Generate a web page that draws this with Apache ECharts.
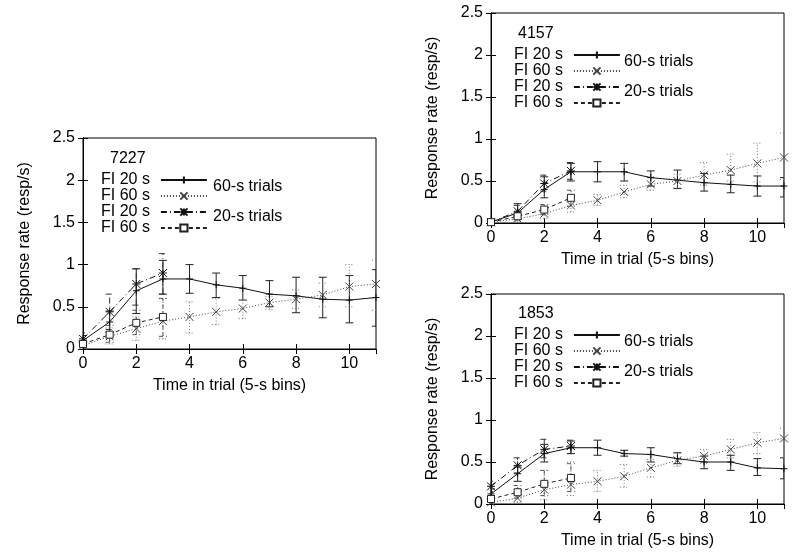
<!DOCTYPE html>
<html><head><meta charset="utf-8">
<script src="https://cdn.jsdelivr.net/npm/echarts@6/dist/echarts.min.js"></script>
<style>html,body{margin:0;padding:0;background:#fff}#c{width:800px;height:560px}</style>
</head><body><div id="c"></div>
<script>
// ---------- data ----------
const bins = [0,1,2,3,4,5,6,7,8,9,10,11];
const binsShort = [0,1,2,3];
const panelIds = ['7227','4157','1853'];
const seriesNames = ['FI 20 s#60','FI 60 s#60','FI 20 s#20','FI 60 s#20'];
const groupLabels = ['60-s trials','20-s trials'];

// Panel 7227
const p7227_fi20_60    = [0.10,0.32,0.69,0.83,0.83,0.76,0.72,0.65,0.63,0.59,0.58,0.61];
const p7227_fi20_60_lo = [0.05,0.20,0.42,0.65,0.66,0.61,0.58,0.50,0.43,0.37,0.31,0.27];
const p7227_fi20_60_hi = [0.16,0.45,0.95,1.05,1.00,0.90,0.87,0.81,0.85,0.85,0.87,0.94];
const p7227_fi60_60    = [0.04,0.15,0.24,0.33,0.38,0.44,0.48,0.55,0.59,0.64,0.74,0.77];
const p7227_fi60_60_lo = [0.01,0.06,0.10,0.12,0.19,0.29,0.36,0.47,0.48,0.50,0.50,0.46];
const p7227_fi60_60_hi = [0.08,0.25,0.38,0.60,0.56,0.60,0.58,0.62,0.70,0.78,1.00,1.05];
const p7227_fi20_20    = [0.12,0.44,0.77,0.90];
const p7227_fi20_20_lo = [0.05,0.23,0.52,0.65];
const p7227_fi20_20_hi = [0.19,0.65,0.95,1.13];
const p7227_fi60_20    = [0.06,0.17,0.31,0.38];
const p7227_fi60_20_lo = [0.02,0.08,0.17,0.15];
const p7227_fi60_20_hi = [0.10,0.28,0.46,0.60];

// Panel 4157
const p4157_fi20_60    = [0.01,0.12,0.40,0.61,0.61,0.61,0.54,0.51,0.48,0.46,0.44,0.44];
const p4157_fi20_60_lo = [0.00,0.05,0.30,0.50,0.49,0.50,0.44,0.41,0.38,0.36,0.32,0.31];
const p4157_fi20_60_hi = [0.02,0.23,0.55,0.71,0.73,0.71,0.62,0.63,0.59,0.57,0.56,0.54];
const p4157_fi60_60    = [0.01,0.05,0.11,0.21,0.27,0.37,0.46,0.50,0.57,0.63,0.71,0.78];
const p4157_fi60_60_lo = [0.00,0.02,0.05,0.13,0.21,0.30,0.39,0.42,0.45,0.50,0.49,0.52];
const p4157_fi60_60_hi = [0.02,0.09,0.18,0.30,0.34,0.45,0.55,0.58,0.72,0.82,0.95,1.07];
const p4157_fi20_20    = [0.01,0.14,0.47,0.62];
const p4157_fi20_20_lo = [0.00,0.08,0.38,0.52];
const p4157_fi20_20_hi = [0.02,0.21,0.57,0.72];
const p4157_fi60_20    = [0.01,0.08,0.16,0.30];
const p4157_fi60_20_lo = [0.00,0.04,0.10,0.20];
const p4157_fi60_20_hi = [0.02,0.12,0.22,0.39];

// Panel 1853
const p1853_fi20_60    = [0.12,0.36,0.60,0.67,0.67,0.60,0.59,0.54,0.50,0.50,0.43,0.42];
const p1853_fi20_60_lo = [0.06,0.27,0.50,0.60,0.58,0.57,0.50,0.48,0.42,0.40,0.34,0.30];
const p1853_fi20_60_hi = [0.18,0.44,0.71,0.75,0.76,0.64,0.67,0.61,0.57,0.58,0.54,0.55];
const p1853_fi60_60    = [0.02,0.07,0.17,0.23,0.27,0.33,0.43,0.52,0.57,0.65,0.73,0.78];
const p1853_fi60_60_lo = [0.00,0.02,0.05,0.10,0.15,0.20,0.32,0.45,0.48,0.55,0.60,0.55];
const p1853_fi60_60_hi = [0.05,0.13,0.40,0.50,0.40,0.47,0.53,0.60,0.65,0.77,0.85,0.90];
const p1853_fi20_20    = [0.21,0.46,0.65,0.69];
const p1853_fi20_20_lo = [0.15,0.37,0.55,0.60];
const p1853_fi20_20_hi = [0.27,0.55,0.77,0.76];
const p1853_fi60_20    = [0.06,0.14,0.24,0.31];
const p1853_fi60_20_lo = [0.02,0.07,0.10,0.15];
const p1853_fi60_20_hi = [0.10,0.22,0.40,0.48];

// ---------- build ----------
const FONT = 'Liberation Sans, Arial, sans-serif';
const FS = 16;
const grids = [
  {left:83, top:138, width:293, height:211},
  {left:491, top:13, width:293, height:210},
  {left:491, top:294, width:293, height:210}
];
const panelData = [
  [[p7227_fi20_60,p7227_fi20_60_lo,p7227_fi20_60_hi],[p7227_fi60_60,p7227_fi60_60_lo,p7227_fi60_60_hi],[p7227_fi20_20,p7227_fi20_20_lo,p7227_fi20_20_hi],[p7227_fi60_20,p7227_fi60_20_lo,p7227_fi60_20_hi]],
  [[p4157_fi20_60,p4157_fi20_60_lo,p4157_fi20_60_hi],[p4157_fi60_60,p4157_fi60_60_lo,p4157_fi60_60_hi],[p4157_fi20_20,p4157_fi20_20_lo,p4157_fi20_20_hi],[p4157_fi60_20,p4157_fi60_20_lo,p4157_fi60_20_hi]],
  [[p1853_fi20_60,p1853_fi20_60_lo,p1853_fi20_60_hi],[p1853_fi60_60,p1853_fi60_60_lo,p1853_fi60_60_hi],[p1853_fi20_20,p1853_fi20_20_lo,p1853_fi20_20_hi],[p1853_fi60_20,p1853_fi60_20_lo,p1853_fi60_20_hi]]
];
const styles = [
  {dash:'solid', color:'#111', ecolor:'#222', symbol:'path://M0,5L10,5M5,0L5,10', size:7},
  {dash:[1,2], color:'#444', ecolor:'#777', symbol:'path://M0,0L10,10M10,0L0,10', size:8},
  {dash:[6,3,1,3], color:'#111', ecolor:'#333', symbol:'path://M0,0L10,10M10,0L0,10M5,0L5,10M0,5L10,5', size:8},
  {dash:[4,3], color:'#222', ecolor:'#555', symbol:'rect', size:7}
];

const xAxis = [], yAxis = [], series = [], legend = [], title = [];
const txt = {color:'#000', fontSize:FS, fontFamily:FONT};
grids.forEach((g, gi) => {
  const base = {
    type:'value', gridIndex: gi, min:0, max:11, interval:2,
    axisLine:{show:true, lineStyle:{color:'#000', width:1}},
    axisTick:{show:true, inside:true, length:5, lineStyle:{color:'#000'}},
    splitLine:{show:false}
  };
  xAxis.push(Object.assign({}, base, {
    position:'bottom',
    axisLabel:Object.assign({show:true, showMaxLabel:false, margin:7}, txt),
    name:'Time in trial (5-s bins)', nameLocation:'middle', nameGap:29,
    nameTextStyle:txt
  }));
  xAxis.push(Object.assign({}, base, {position:'top', axisLabel:{show:false}}));
  const ybase = {
    type:'value', gridIndex: gi, min:0, max:2.5, interval:0.5,
    axisLine:{show:true, lineStyle:{color:'#000', width:1}},
    axisTick:{show:true, inside:true, length:5, lineStyle:{color:'#000'}},
    splitLine:{show:false}
  };
  yAxis.push(Object.assign({}, ybase, {
    position:'left',
    axisLabel:Object.assign({show:true, margin:8}, txt),
    name:'Response rate (resp/s)', nameLocation:'middle', nameGap:50, nameRotate:90,
    nameTextStyle:txt
  }));
  yAxis.push(Object.assign({}, ybase, {position:'right', axisLabel:{show:false}}));

  const xi = gi*2, yi = gi*2;
  panelData[gi].forEach((d, si) => {
    const st = styles[si];
    const xs = si < 2 ? bins : binsShort;
    series.push({
      type:'custom', xAxisIndex:xi, yAxisIndex:yi, silent:true, clip:true, z:1,
      encode:{x:0, y:[1,2]},
      data: xs.map((x,i)=>[x, d[1][i], d[2][i]]),
      renderItem:(params, api) => {
        const x = api.value(0);
        const p1 = api.coord([x, api.value(1)]);
        const p2 = api.coord([x, api.value(2)]);
        const w = 4;
        const style = {stroke: st.ecolor, lineWidth: 1, lineDash: st.dash === 'solid' ? null : st.dash};
        return {type:'group', children:[
          {type:'line', shape:{x1:p1[0],y1:p1[1],x2:p2[0],y2:p2[1]}, style:style},
          {type:'line', shape:{x1:p1[0]-w,y1:p1[1],x2:p1[0]+w,y2:p1[1]}, style:style},
          {type:'line', shape:{x1:p2[0]-w,y1:p2[1],x2:p2[0]+w,y2:p2[1]}, style:style}
        ]};
      }
    });
    series.push({
      type:'line', name: seriesNames[si], xAxisIndex:xi, yAxisIndex:yi, z:3,
      data: xs.map((x,i)=>[x, d[0][i]]),
      symbol: st.symbol, symbolSize: st.size, showAllSymbol:true,
      lineStyle:{color:st.color, width:1, type:st.dash},
      itemStyle:{color: si===3 ? '#fff' : 'none', borderColor:st.color, borderWidth:1},
      emphasis:{disabled:true}, animation:false
    });
  });

  const lx = gi === 0 ? 101 : 514;
  const ly = gi === 0 ? 172 : (gi === 1 ? 47 : 327);
  legend.push({
    orient:'vertical', left: lx, top: ly, align:'right', padding:0,
    data: seriesNames.slice(), itemWidth:46, itemHeight:9, itemGap:0,
    formatter: n => n.split('#')[0],
    textStyle:Object.assign({lineHeight:15, padding:[0,6,0,0]}, txt),
    selectedMode:false
  });
  const tx = gi === 0 ? 110 : 518;
  const gx = gi === 0 ? 213 : 624;
  const tStyle = Object.assign({fontWeight:'normal'}, txt);
  title.push({text: panelIds[gi], left: tx, top: ly - 21, padding:0, textStyle:tStyle});
  title.push({text: groupLabels[0], left: gx, top: ly + 7, padding:0, textStyle:tStyle});
  title.push({text: groupLabels[1], left: gx, top: ly + 37, padding:0, textStyle:tStyle});
});

const chart = echarts.init(document.getElementById('c'), null, {renderer:'canvas'});
chart.setOption({
  animation:false,
  backgroundColor:'#fff',
  title: title,
  legend: legend,
  grid: grids.map(g => Object.assign({show:true, borderColor:'#000', borderWidth:1, backgroundColor:'transparent'}, g)),
  xAxis: xAxis, yAxis: yAxis, series: series
});
</script></body></html>
